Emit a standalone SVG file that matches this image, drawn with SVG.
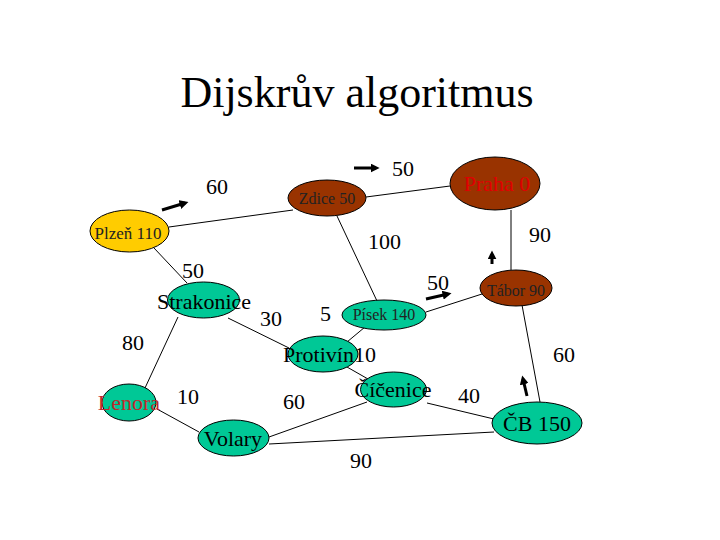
<svg xmlns="http://www.w3.org/2000/svg" width="720" height="540" viewBox="0 0 720 540">
<defs>
<style>
.t{font-size:44px;font-family:'Liberation Serif',serif}
.w{font-size:22px;font-family:'Liberation Serif',serif}
.s{font-size:16px;fill:#222;font-family:'Liberation Serif',serif}
.e{stroke:#000;stroke-width:1;fill:none}
.a{stroke:#000;stroke-width:3;fill:none;marker-end:url(#ah)}
.g{fill:#00C896;stroke:#000;stroke-width:1}
.b{fill:#993300;stroke:#000;stroke-width:1}
.y{fill:#FFCC00;stroke:#000;stroke-width:1}
</style>
<marker id="ah" viewBox="0 0 10 10" refX="6" refY="5" markerWidth="3" markerHeight="3" orient="auto" markerUnits="strokeWidth">
<path d="M0,0 L10,5 L0,10 z" fill="#000"/>
</marker>
</defs>
<rect width="720" height="540" fill="#fff"/>
<text class="t" x="357" y="107" text-anchor="middle">Dijskrův algoritmus</text>
<g id="connectors">
<line class="e" x1="169" y1="227" x2="293" y2="210"/>
<line class="e" x1="366" y1="197" x2="450" y2="186"/>
<line class="e" x1="337" y1="216" x2="377" y2="301"/>
<line class="e" x1="511" y1="210" x2="511" y2="270"/>
<line class="e" x1="426" y1="312" x2="482" y2="294"/>
<line class="e" x1="154" y1="248" x2="187" y2="283"/>
<line class="e" x1="178" y1="317" x2="145" y2="388"/>
<line class="e" x1="228" y1="318" x2="289" y2="348"/>
<line class="e" x1="365" y1="327" x2="347" y2="342"/>
<line class="e" x1="347" y1="367" x2="368" y2="379"/>
<line class="e" x1="427" y1="403" x2="494" y2="419"/>
<line class="e" x1="522" y1="305" x2="540" y2="402"/>
<line class="e" x1="157" y1="409" x2="199" y2="432"/>
<line class="e" x1="269" y1="437" x2="367" y2="402"/>
<line class="e" x1="269" y1="444" x2="494" y2="432"/>
<line class="a" x1="162" y1="210" x2="185" y2="203"/>
<line class="a" x1="354" y1="168" x2="376" y2="168"/>
<line class="a" x1="492" y1="264" x2="492" y2="254"/>
<line class="a" x1="426" y1="299" x2="448" y2="294"/>
<line class="a" x1="527" y1="396" x2="523" y2="379"/>
</g>
<g id="plzen"><ellipse class="y" cx="129.5" cy="231" rx="39.5" ry="21"/><text class="s" x="128" y="239" text-anchor="middle" style="font-size:17px">Plzeň 110</text></g>
<g id="zdice"><ellipse class="b" cx="327" cy="198" rx="39" ry="18"/><text class="s" x="327" y="204" text-anchor="middle">Zdice 50</text></g>
<g id="praha"><ellipse class="b" cx="495" cy="183.5" rx="45" ry="26.5"/><text class="w" x="497" y="191" text-anchor="middle" style="fill:#E00000">Praha 0</text></g>
<g id="tabor"><ellipse class="b" cx="516" cy="288" rx="36" ry="18"/><text class="s" x="516" y="296" text-anchor="middle">Tábor 90</text></g>
<g id="strakonice"><ellipse class="g" cx="203.5" cy="300" rx="36" ry="18"/><text class="w" x="204" y="309" text-anchor="middle">Strakonice</text></g>
<g id="pisek"><ellipse class="g" cx="384" cy="315" rx="42" ry="15"/><text class="s" x="384" y="320" text-anchor="middle">Písek 140</text></g>
<g id="protivin"><ellipse class="g" cx="323" cy="354" rx="35" ry="18"/><text class="w" x="283" y="362">Protivín10</text></g>
<g id="cicenice"><ellipse class="g" cx="393.5" cy="389.5" rx="33" ry="17.5"/><text class="w" x="393" y="397" text-anchor="middle">Číčenice</text></g>
<g id="cb"><ellipse class="g" cx="537" cy="423" rx="45" ry="21"/><text class="w" x="537" y="431" text-anchor="middle">ČB 150</text></g>
<g id="lenora"><ellipse class="g" cx="129" cy="402.5" rx="27" ry="18.5"/><text class="w" x="129" y="410" text-anchor="middle" style="fill:#C0282D">Lenora</text></g>
<g id="volary"><ellipse class="g" cx="233.5" cy="438" rx="35.5" ry="18"/><text class="w" x="233" y="446" text-anchor="middle">Volary</text></g>
<g id="labels">
<text class="w" x="206" y="194">60</text>
<text class="w" x="392" y="176">50</text>
<text class="w" x="368" y="249">100</text>
<text class="w" x="529" y="242">90</text>
<text class="w" x="427" y="290">50</text>
<text class="w" x="182" y="278">50</text>
<text class="w" x="260" y="326">30</text>
<text class="w" x="320" y="321">5</text>
<text class="w" x="122" y="350">80</text>
<text class="w" x="553" y="362">60</text>
<text class="w" x="458" y="403">40</text>
<text class="w" x="283" y="409">60</text>
<text class="w" x="350" y="468">90</text>
<text class="w" x="177" y="404">10</text>
</g>
</svg>
